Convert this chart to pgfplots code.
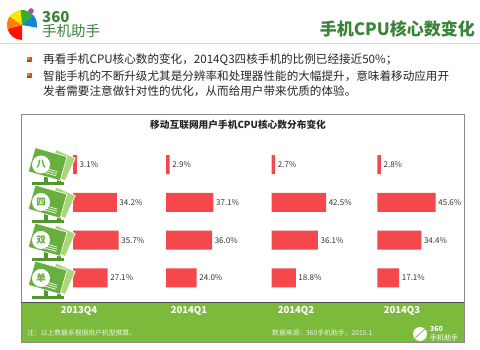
\documentclass[border=0pt]{standalone}
\usepackage{fontspec}
\usepackage{pgfplots}
\usepackage{pgfplotstable}
\pgfplotsset{compat=1.18}
\setmainfont{Noto Sans CJK SC}
\definecolor{barred}{RGB}{245,72,76}
\definecolor{bandgreen}{RGB}{124,186,60}
\definecolor{darkgreen}{RGB}{56,132,56}
\definecolor{icongreen}{RGB}{104,176,62}
\definecolor{iconlight}{RGB}{170,214,122}
\definecolor{stand}{RGB}{86,150,50}

% rows: 4=八, 3=四, 2=双, 1=单
\pgfplotstableread{
y v
4 3.1
3 34.2
2 35.7
1 27.1
}\dataA
\pgfplotstableread{
y v
4 2.9
3 37.1
2 36.0
1 24.0
}\dataB
\pgfplotstableread{
y v
4 2.7
3 42.5
2 36.1
1 18.8
}\dataC
\pgfplotstableread{
y v
4 2.8
3 45.6
2 34.4
1 17.1
}\dataD

\pgfplotsset{grp/.style={xbar, hide axis, scale only axis,
  width=64pt, height=151.3pt, xmin=0, xmax=50, ymin=0.5, ymax=4.5,
  bar width=19pt, clip=false, anchor=south west,
  /pgf/number format/assume math mode=true,
  nodes near coords={\pgfmathprintnumber[fixed,fixed zerofill,precision=1,assume math mode=true]{\pgfplotspointmeta}\%},
  nodes near coords style={font=\fontsize{8}{8}\selectfont, text=black!80, inner sep=2.5pt}}}

\begin{document}
\begin{tikzpicture}[x=1pt,y=1pt]
\path[use as bounding box, fill=white] (0,0) rectangle (480,350);

\begin{scope}[y=-1pt, shift={(0pt,350pt)}]
% ---------- header ----------
\fill[red!85!orange] (22,25) -- ++(90:15) arc[start angle=90,end angle=165,radius=15] -- cycle;
\fill[orange] (22,25) -- ++(165:15) arc[start angle=165,end angle=215,radius=15] -- cycle;
\fill[yellow!90!orange] (22,25) -- ++(215:15) arc[start angle=215,end angle=265,radius=15] -- cycle;
\fill[green!60!black!80] (22,25) -- ++(265:15) arc[start angle=265,end angle=320,radius=15] -- cycle;
\fill[cyan!70!blue] (22,25) -- ++(320:15) arc[start angle=320,end angle=370,radius=15] -- cycle;
\fill[violet!70] (31,11) circle (2.8);
\node[anchor=west, text=darkgreen, font=\fontsize{15}{15}\selectfont\bfseries, inner sep=0] at (42,17) {360};
\node[anchor=west, text=darkgreen, font=\fontsize{14.5}{14.5}\selectfont, inner sep=0] at (42,31) {手机助手};
\node[anchor=east, text=darkgreen, font=\fontsize{17}{17}\selectfont\bfseries, inner sep=0] at (475,29) {手机CPU核心数变化};
\draw[black!15, line width=1pt] (0,44) -- (480,44);

\foreach \by in {60,76}{
  \fill[orange] (27,\by) rectangle (30,\by-2.5);
  \fill[green!60!black] (27,\by) rectangle (30,\by+2.5);
  \fill[red!80] (30,\by-2.5) rectangle (32,\by+2.5);
}
\begin{scope}[font=\fontsize{11.6}{14}\selectfont, text=black!85]
\node[anchor=west, inner sep=0] at (43,60) {再看手机CPU核心数的变化，2014Q3四核手机的比例已经接近50\%；};
\node[anchor=west, inner sep=0] at (43,76) {智能手机的不断升级尤其是分辨率和处理器性能的大幅提升，意味着移动应用开};
\node[anchor=west, inner sep=0] at (43,91) {发者需要注意做针对性的优化，从而给用户带来优质的体验。};
\end{scope}

% ---------- chart frame ----------
\fill[white] (21,114) rectangle (464,302);
\fill[bandgreen] (21,302) rectangle (464,342);
\draw[black!45, line width=0.8pt] (21,114) rectangle (464,342);
\draw[black!70, line width=0.8pt] (21,302) -- (464,302);
\node[font=\fontsize{9.7}{10}\selectfont\bfseries, text=black!85, anchor=west, inner sep=0] at (150,125) {移动互联网用户手机CPU核心数分布变化};
\end{scope}

% ---------- bars ----------
\begin{axis}[grp, at={(73pt,53.1pt)}]
\addplot[fill=barred, draw=none] table[x=v,y=y]{\dataA};
\end{axis}
\begin{axis}[grp, at={(166pt,53.1pt)}]
\addplot[fill=barred, draw=none] table[x=v,y=y]{\dataB};
\end{axis}
\begin{axis}[grp, at={(271.7pt,53.1pt)}]
\addplot[fill=barred, draw=none] table[x=v,y=y]{\dataC};
\end{axis}
\begin{axis}[grp, at={(377.3pt,53.1pt)}]
\addplot[fill=barred, draw=none] table[x=v,y=y]{\dataD};
\end{axis}

\begin{scope}[y=-1pt, shift={(0pt,350pt)}]
% ---------- icons ----------
\foreach \yc/\ch in {164.5/八, 202/四, 240/双, 278/单}{
  \fill[stand] (32,\yc+18) rectangle (64,\yc+21);
  \fill[stand] (44,\yc+12) rectangle (48,\yc+18);
  \fill[stand] (57,\yc+12) rectangle (61,\yc+18);
  \fill[iconlight, draw=white, line width=0.6pt, rotate around={-24:(60,\yc+1)}] (50,\yc-12) rectangle (71,\yc+13);
  \fill[icongreen, draw=white, line width=0.6pt, rotate around={-16:(47,\yc)}] (31,\yc-13) rectangle (64,\yc+12);
  \fill[white] (41,\yc) circle (9);
  \node[text=icongreen, font=\fontsize{9.5}{9.5}\selectfont\bfseries, inner sep=0] at (41,\yc) {\ch};
  \foreach \k in {0,1,2}{\draw[white, line width=0.7pt, rotate around={-16:(47,\yc)}] (46,\yc+4+2.2*\k) -- (59,\yc+4+2.2*\k);}
}

% ---------- band text ----------
\begin{scope}[font=\fontsize{9.5}{10}\selectfont\bfseries, text=white]
\node at (79,311) {2013Q4};
\node at (189,311) {2014Q1};
\node at (296,311) {2014Q2};
\node at (402,311) {2014Q3};
\end{scope}
\begin{scope}[font=\fontsize{6.8}{7}\selectfont, text=white!85!bandgreen]
\node[anchor=west, inner sep=0] at (27,333) {注：以上数据系根据用户机型推算。};
\node[anchor=west, inner sep=0] at (272,333) {数据来源：360手机助手，2015.1};
\end{scope}
\fill[white] (420,334) circle (7);
\draw[bandgreen, line width=0.8pt] (415,338) -- (425,329);
\node[anchor=west, text=white, font=\fontsize{7}{7}\selectfont\bfseries, inner sep=0] at (430,329) {360};
\node[anchor=west, text=white, font=\fontsize{7}{7}\selectfont, inner sep=0] at (430,337.5) {手机助手};
\end{scope}
\end{tikzpicture}
\end{document}
